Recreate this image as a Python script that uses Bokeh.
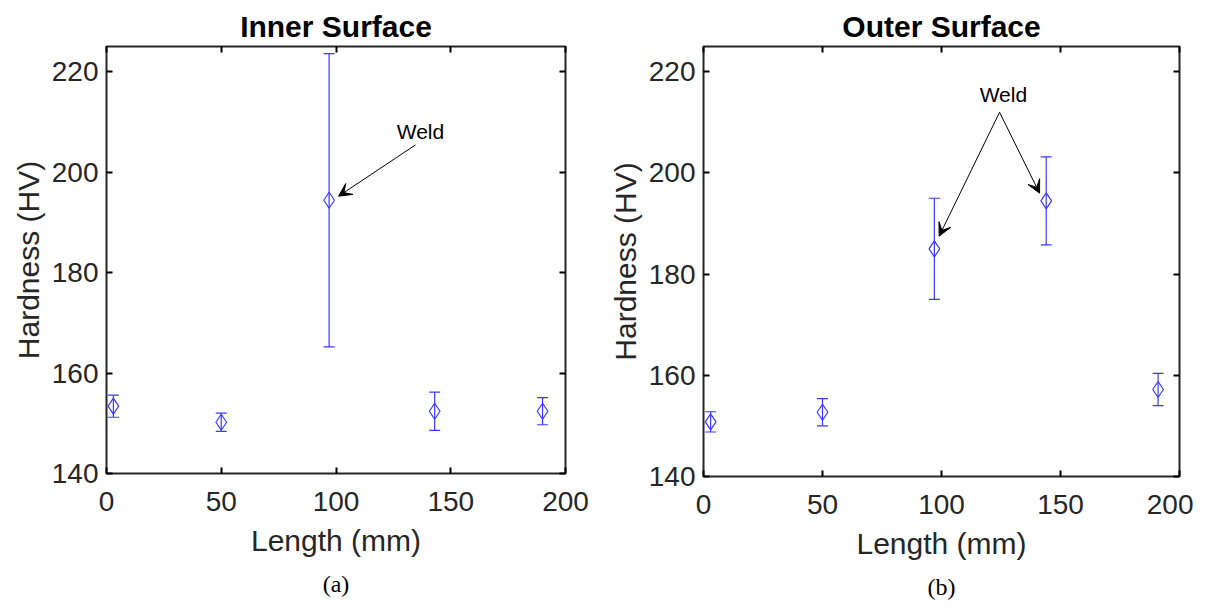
from bokeh.plotting import figure
from bokeh.layouts import row
from bokeh.models import (ColumnDataSource, Whisker, TeeHead, Arrow, VeeHead, Label,
                          LinearAxis, FixedTicker, Title, Range1d)
from bokeh.embed import file_html
from bokeh.resources import INLINE

# ---- data ----
length_inner = [3, 50, 97, 143, 190]
hv_inner = [153.4, 150.2, 194.4, 152.4, 152.4]
err_inner = [2.2, 1.8, 29.2, 3.8, 2.7]

length_outer = [3, 50, 97, 144, 191]
hv_outer = [150.8, 152.7, 185.0, 194.5, 157.2]
err_outer = [2.0, 2.7, 10.0, 8.7, 3.2]

x_ticks = [0, 50, 100, 150, 200]
y_ticks = [140, 160, 180, 200, 220]

# annotation anchors (data coords)
weld_inner_text = (136.8, 208.0)
weld_inner_arrows = [((134.6, 205.4), (101.1, 195.2))]
weld_outer_text = (126.0, 215.6)
weld_outer_arrows = [((124.4, 212.0), (99.0, 187.5)), ((124.4, 212.0), (141.2, 196.0))]

BLUE = "#3a3aff"
DARK = "#262626"
FONT = "Liberation Sans"
TICK_SIZE = "28px"
LABEL_SIZE = "30px"


def style_axis(ax, ticks, show_labels):
    ax.ticker = FixedTicker(ticks=ticks)
    ax.major_tick_in = 6
    ax.major_tick_out = 0
    ax.minor_tick_in = 0
    ax.minor_tick_out = 0
    ax.major_tick_line_color = "black"
    ax.major_tick_line_width = 2
    ax.axis_line_color = None
    ax.major_label_text_font = FONT
    ax.major_label_text_font_size = TICK_SIZE
    ax.major_label_text_color = DARK
    ax.axis_label_text_font = FONT
    ax.axis_label_text_font_size = LABEL_SIZE
    ax.axis_label_text_font_style = "normal"
    ax.axis_label_text_color = DARK
    if not show_labels:
        ax.major_label_text_font_size = "0px"
        ax.major_label_text_color = None
        ax.major_label_standoff = 0


def make_panel(title, xs, ys, errs, fw, fh, bl, bt, br, caption, txt, arrows):
    p = figure(frame_width=fw, frame_height=fh, x_range=Range1d(0, 200), y_range=Range1d(140, 225),
               min_border_left=bl, min_border_top=bt, min_border_right=br, min_border_bottom=6,
               output_backend="svg", toolbar_location=None, x_axis_location=None, y_axis_location=None)
    p.grid.visible = False
    p.outline_line_color = DARK
    p.outline_line_width = 2
    p.outline_line_alpha = 1

    xb = LinearAxis(axis_label="Length (mm)")
    xt = LinearAxis()
    yl = LinearAxis(axis_label="Hardness (HV)")
    yr = LinearAxis()
    style_axis(xb, x_ticks, True)
    style_axis(xt, x_ticks, False)
    style_axis(yl, y_ticks, True)
    style_axis(yr, y_ticks, False)
    xb.major_label_standoff = 18
    yl.major_label_standoff = 8
    xb.axis_label_standoff = 10
    yl.axis_label_standoff = 4
    p.add_layout(xb, "below")
    p.add_layout(xt, "above")
    p.add_layout(yl, "left")
    p.add_layout(yr, "right")

    p.title.text = title
    p.title.align = "center"
    p.title.text_font = FONT
    p.title.text_font_size = "30px"
    p.title.text_font_style = "bold"
    p.title.text_color = "black"
    p.title.standoff = 8

    cap = Title(text=caption, align="center", text_font="Liberation Serif", text_font_size="24px",
                text_font_style="normal", text_color="black", standoff=18)
    p.add_layout(cap, "below")

    src = ColumnDataSource(dict(x=xs, y=ys,
                                upper=[y + e for y, e in zip(ys, errs)],
                                lower=[y - e for y, e in zip(ys, errs)]))
    w = Whisker(base="x", upper="upper", lower="lower", source=src, dimension="height",
                line_color=BLUE, line_width=1.2,
                upper_head=TeeHead(size=11, line_color=BLUE, line_width=1.2),
                lower_head=TeeHead(size=11, line_color=BLUE, line_width=1.2))
    p.add_layout(w)
    p.scatter("x", "y", source=src, marker="diamond", size=16, fill_color=None,
              line_color=BLUE, line_width=1.2)

    p.add_layout(Label(x=txt[0], y=txt[1], text="Weld", text_align="center", text_baseline="middle",
                       text_font=FONT, text_font_size="21px", text_color="black"))
    for (x0, y0), (x1, y1) in arrows:
        p.add_layout(Arrow(x_start=x0, y_start=y0, x_end=x1, y_end=y1, line_color="black", line_width=1,
                           end=VeeHead(size=13, fill_color="black", line_color="black", line_width=1)))
    return p


p1 = make_panel("Inner Surface", length_inner, hv_inner, err_inner, 459, 427, 106, 46, 40, "(a)",
                weld_inner_text, weld_inner_arrows)
p2 = make_panel("Outer Surface", length_outer, hv_outer, err_outer, 476, 430, 97, 45, 14, "(b)",
                weld_outer_text, weld_outer_arrows)

layout = row(p1, p2)
open("out.html", "w").write(file_html(layout, INLINE))
